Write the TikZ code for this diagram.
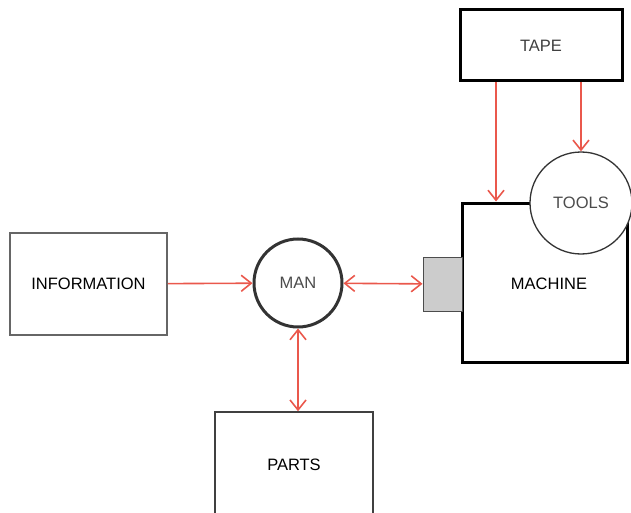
\documentclass[tikz,border=0pt]{standalone}
\usepackage{fontspec}
\setmainfont{Liberation Sans}
\usetikzlibrary{shapes.geometric, arrows.meta}
\definecolor{arrowred}{RGB}{234,88,76}
\begin{document}
\begin{tikzpicture}[x=1pt, y=-1pt, font=\fontsize{16.5}{19}\selectfont]
\tikzstyle{box}=[rectangle, draw=black!75, line width=1.5pt, fill=white, inner sep=0pt]
\tikzstyle{thickbox}=[rectangle, draw=black, line width=3pt, fill=white, inner sep=0pt]
\tikzstyle{ring}=[circle, draw=black!80, fill=white, inner sep=0pt]
\tikzstyle{arrow}=[draw=arrowred, line width=1.6pt, -{Straight Barb[length=10pt, width=16pt]}]
\tikzstyle{darrow}=[draw=arrowred, line width=1.6pt, {Straight Barb[length=10pt, width=16pt]}-{Straight Barb[length=10pt, width=16pt]}]

\useasboundingbox (0,0) rectangle (631,513);

\node (tape) [thickbox, minimum width=162, minimum height=71, text=black!75] at (541,45.5) {TAPE};
\node (machine) [thickbox, minimum width=165, minimum height=159] at (544.5,282.5) {};
\node (machinelabel) at (549,284) {MACHINE};
\node (tools) [ring, line width=1.3pt, minimum size=102, text=black!70] at (581,203) {TOOLS};
\node (holder) [rectangle, draw=black!70, line width=1pt, fill=black!20, minimum width=39, minimum height=54] at (442.5,284) {};
\node (info) [box, draw=black!60, minimum width=157, minimum height=102] at (88.5,284) {INFORMATION};
\node (man) [ring, line width=3pt, minimum size=88, text=black!70] at (298,283) {MAN};
\node (parts) [box, minimum width=158, minimum height=106] at (294,465) {PARTS};

\draw [arrow] (info) -- (man);
\draw [darrow] (man) -- (holder);
\draw [darrow] (man) -- (man.south |- parts.north);
\draw [arrow] ([xshift=-45]tape.south) -- ([xshift=-45]tape.south |- machine.north);
\draw [arrow] (tools.north |- tape.south) -- (tools.north);

\end{tikzpicture}
\end{document}
